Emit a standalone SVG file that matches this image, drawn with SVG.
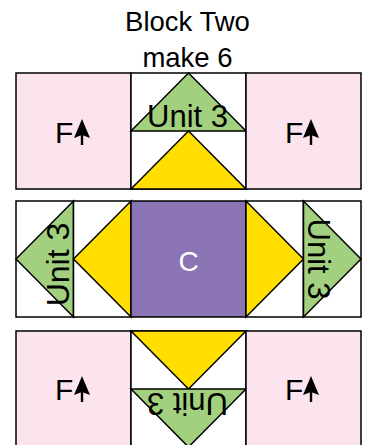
<svg xmlns="http://www.w3.org/2000/svg" width="369" height="445" viewBox="0 0 369 445">
<style>
.o{stroke:#000;stroke-width:1.5;stroke-linejoin:miter}
.pink{fill:#fce4ee}
.wh{fill:#fff}
.gr{fill:#a2d07e}
.ye{fill:#ffde00}
.pu{fill:#8a74b4}
.t{font-family:"Liberation Sans",Arial,sans-serif;fill:#000}
.u{font-family:"Liberation Sans",Arial,sans-serif;font-size:31px;text-anchor:middle;fill:#000}
</style>
<defs>
<g id="arr"><rect x="-1.2" y="-12" width="2.4" height="12" fill="#000"/><path d="M0,-26 L8,-7 L0,-10 L-8,-7 Z" fill="#000"/></g>
</defs>
<g id="title">
<text class="t" x="187.5" y="31" font-size="27.5" text-anchor="middle">Block Two</text>
<text class="t" x="187.5" y="67" font-size="27.5" text-anchor="middle">make 6</text>
</g>
<g id="row1">
<g id="r1-left"><rect class="o pink" x="16" y="73" width="115" height="116"/><text class="t" x="55" y="143" font-size="30">F</text><use href="#arr" x="82" y="145"/></g>
<g id="r1-mid"><rect class="o wh" x="131" y="73" width="115" height="116"/>
<polygon class="o gr" points="188.5,73 246,131 131,131"/>
<polygon class="o ye" points="188.5,131 246,189 131,189"/>
<text class="u" x="187.5" y="127">Unit 3</text></g>
<g id="r1-right"><rect class="o pink" x="246" y="73" width="115" height="116"/><text class="t" x="285" y="143" font-size="30">F</text><use href="#arr" x="311" y="145"/></g>
</g>
<g id="row2">
<g id="r2-l1"><rect class="o wh" x="16" y="201" width="57.5" height="116"/><polygon class="o gr" points="16,259 73.5,201 73.5,317"/><text class="u" style="font-size:32px" transform="translate(69,264.5) rotate(-90)">Unit 3</text></g>
<g id="r2-l2"><rect class="o wh" x="73.5" y="201" width="57.5" height="116"/><polygon class="o ye" points="73.5,259 131,201 131,317"/></g>
<g id="r2-c"><rect class="o pu" x="131" y="201" width="115" height="116"/><text class="t" x="188.5" y="271" font-size="28" text-anchor="middle" style="fill:#fff">C</text></g>
<g id="r2-r2"><rect class="o wh" x="246" y="201" width="57.5" height="116"/><polygon class="o ye" points="303.5,259 246,201 246,317"/></g>
<g id="r2-r1"><rect class="o wh" x="303.5" y="201" width="57.5" height="116"/><polygon class="o gr" points="361,259 303.5,201 303.5,317"/><text class="u" transform="translate(308,259) rotate(90)">Unit 3</text></g>
</g>
<g id="row3">
<g id="r3-left"><rect class="o pink" x="16" y="331" width="115" height="116"/><text class="t" x="55" y="400" font-size="30">F</text><use href="#arr" x="82" y="402"/></g>
<g id="r3-mid"><rect class="o wh" x="131" y="331" width="115" height="116"/>
<polygon class="o ye" points="131,331 246,331 188.5,389"/>
<polygon class="o gr" points="131,389 246,389 188.5,447"/>
<text class="u" transform="translate(187.5,393) rotate(180)">Unit 3</text></g>
<g id="r3-right"><rect class="o pink" x="246" y="331" width="115" height="116"/><text class="t" x="285" y="400" font-size="30">F</text><use href="#arr" x="311" y="402"/></g>
</g>
</svg>
